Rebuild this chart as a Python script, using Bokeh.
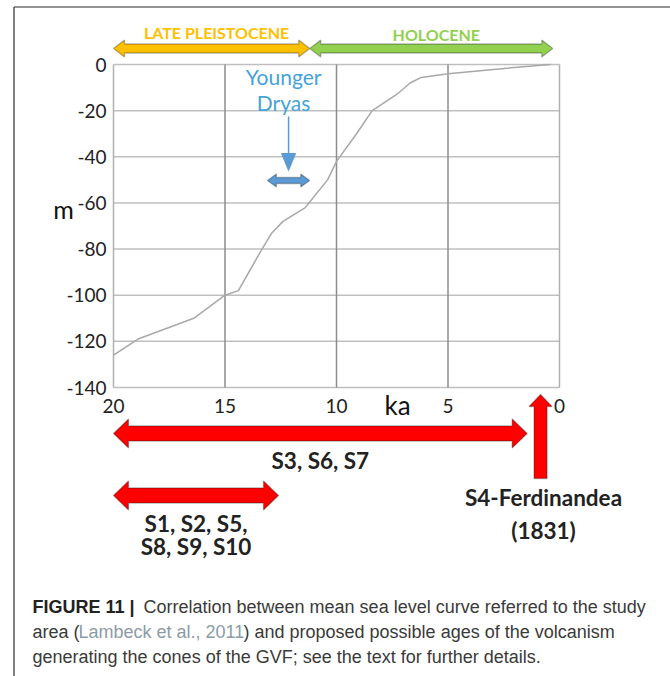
from bokeh.plotting import figure
from bokeh.models import Range1d, FixedTicker, Label, PolyAnnotation, LinearAxis
from bokeh.embed import file_html
from bokeh.resources import INLINE

# ---------------- data ----------------
age_ka = [20.0, 18.9, 16.4, 15.0, 14.4, 13.4, 12.9, 12.4, 11.4, 10.4, 10.0,
          9.1, 8.4, 7.3, 6.7, 6.2, 5.0, 2.6, 0.4]
sea_level_m = [-126, -119, -110, -100, -98, -81, -73, -68, -62, -50, -42,
               -30, -20, -13, -8, -5.6, -4, -1.8, 0]
x_ticks = [20, 15, 10, 5, 0]
y_ticks = [0, -20, -40, -60, -80, -100, -120, -140]

period_names = ["LATE PLEISTOCENE", "HOLOCENE"]
period_start = [20.0, 11.2]
period_end = [11.2, 0.3]
period_colors = ["#FFC000", "#92D050"]

yd_name = ["Younger", "Dryas"]
yd_start, yd_end = 13.1, 11.2

volc_labels = [["S3, S6, S7"], ["S1, S2, S5,", "S8, S9, S10"]]
volc_start = [20.0, 20.0]
volc_end = [1.45, 12.6]
ferd_ka = 0.85
ferd_label = ["S4-Ferdinandea", "(1831)"]

caption_bold = "FIGURE 11 |"
caption_l1 = "Correlation between mean sea level curve referred to the study"
caption_l2a = "area ("
caption_ref = "Lambeck et al., 2011"
caption_l2b = ") and proposed possible ages of the volcanism"
caption_l3 = "generating the cones of the GVF; see the text for further details."

# ---------------- layout ----------------
W, H = 670, 676
PX0, PX1, PY0, PY1 = 113, 559, 64, 387        # where the data box sits on the canvas
XMAX, XMIN = max(x_ticks), min(x_ticks)
YMIN, YMAX = min(y_ticks), max(y_ticks)
KX = (XMAX - XMIN) / (PX1 - PX0)   # ka per px
KY = (YMAX - YMIN) / (PY1 - PY0)   # m per px
XL = XMAX + PX0 * KX
YT = YMAX + PY0 * KY

def X(px):
    return XL - px * KX

def Y(py):
    return YT - py * KY

p = figure(width=W, height=H, output_backend="svg", toolbar_location=None,
           x_range=Range1d(X(0), X(W)), y_range=Range1d(Y(H), Y(0)),
           x_axis_location=None, y_axis_location=None, min_border=0)
p.min_border_left = p.min_border_right = p.min_border_top = p.min_border_bottom = 0
p.background_fill_color = "white"
p.border_fill_color = "white"
p.outline_line_color = None
p.grid.visible = False

FONT = "Lato"
xa = LinearAxis(fixed_location=YMIN, ticker=FixedTicker(ticks=x_ticks),
                major_label_overrides={t: str(t) for t in x_ticks})
ya = LinearAxis(fixed_location=XMAX, ticker=FixedTicker(ticks=y_ticks),
                major_label_overrides={t: str(t) for t in y_ticks})
for ax in (xa, ya):
    ax.axis_line_color = None
    ax.major_tick_line_color = None
    ax.minor_tick_line_color = None
    ax.major_label_text_font = FONT
    ax.major_label_text_font_size = "19px"
    ax.major_label_text_color = "#222222"
xa.major_label_standoff = 5
ya.major_label_standoff = 1
p.add_layout(xa, "below")
p.add_layout(ya, "left")

# grid + box
inner_x = x_ticks[1:-1]
p.segment(x0=[XMAX] * len(y_ticks), y0=y_ticks, x1=[XMIN] * len(y_ticks), y1=y_ticks,
          line_color="#bfbfbf", line_width=1.5)
p.segment(x0=inner_x, y0=[YMIN] * len(inner_x), x1=inner_x, y1=[YMAX] * len(inner_x),
          line_color="#8c8c8c", line_width=1.5)
p.segment(x0=[XMAX, XMIN], y0=[YMIN] * 2, x1=[XMAX, XMIN], y1=[YMAX] * 2,
          line_color="#b0b0b0", line_width=1.5)

p.line(age_ka, sea_level_m, line_color="#a8a8a8", line_width=1.5)

# axis names
p.add_layout(Label(x=X(63), y=Y(208), text="m", text_font=FONT, text_font_size="25px",
                   text_align="center", text_baseline="middle", text_color="#111111"))
p.add_layout(Label(x=X(397), y=Y(404), text="ka", text_font=FONT, text_font_size="26px",
                   text_align="center", text_baseline="middle", text_color="#111111"))


def harrow(xl, xr, ym, bh, hh, hl, color):
    d = hl * KX
    xs = [xl, xl - d, xl - d, xr + d, xr + d, xr, xr + d, xr + d, xl - d, xl - d]
    ys = [ym, ym + hh * KY, ym + bh * KY, ym + bh * KY, ym + hh * KY, ym,
          ym - hh * KY, ym - bh * KY, ym - bh * KY, ym - hh * KY]
    p.add_layout(PolyAnnotation(xs=xs, ys=ys, fill_color=color, fill_alpha=1,
                                line_color="#111111", line_width=1.3))


# period arrows
for name, s, e, c, ty in zip(period_names, period_start, period_end, period_colors, [32, 34]):
    harrow(s, e, Y(48), 4.5, 8.5, 11, c)
    p.add_layout(Label(x=(s + e) / 2 - 5 * KX, y=Y(ty), text=name, text_font=FONT,
                       text_font_style="bold", text_font_size="16px", text_color=c,
                       text_align="center", text_baseline="middle"))

# Younger Dryas
yd_c = (yd_start + yd_end) / 2
for i, t in enumerate(yd_name):
    p.add_layout(Label(x=yd_c + 5 * KX, y=Y(76 + 26 * i), text=t, text_font=FONT,
                       text_font_size="21px", text_color="#45a3da", text_align="center",
                       text_baseline="middle"))
yd_top, yd_tip = Y(116), Y(170)
p.segment(x0=[yd_c], y0=[yd_top], x1=[yd_c], y1=[yd_tip + 14 * KY], line_color="#5b9bd5",
          line_width=1.5)
p.patch(x=[yd_c - 7 * KX, yd_c + 7 * KX, yd_c], y=[yd_tip + 17 * KY] * 2 + [yd_tip],
        fill_color="#5b9bd5", line_color="#5b9bd5")
harrow(yd_start, yd_end, Y(180), 3, 6.5, 9, "#5b9bd5")

# volcanism arrows
BF = "22.5px"
for labels, s, e, ay, ty in zip(volc_labels, volc_start, volc_end, [433, 495], [460, 523]):
    harrow(s, e, Y(ay), 7.5, 14.5, 15, "#ff0000")
    cx = (s + e) / 2
    for j, t in enumerate(labels):
        p.add_layout(Label(x=cx, y=Y(ty + 23 * j), text=t, text_font=FONT,
                           text_font_style="bold", text_font_size=BF, text_color="#222222",
                           text_align="center", text_baseline="middle"))

# Ferdinandea up arrow
tip, base, bottom = Y(394), Y(406), Y(478)
hw, bw = 11.5 * KX, 6.5 * KX
p.add_layout(PolyAnnotation(
    xs=[ferd_ka, ferd_ka - hw, ferd_ka - bw, ferd_ka - bw, ferd_ka + bw, ferd_ka + bw, ferd_ka + hw],
    ys=[tip, base, base, bottom, bottom, base, base],
    fill_color="#ff0000", fill_alpha=1, line_color="#111111", line_width=1.3))
for j, t in enumerate(ferd_label):
    p.add_layout(Label(x=X(543), y=Y(497 + 33 * j), text=t, text_font=FONT,
                       text_font_style="bold", text_font_size=BF, text_color="#222222",
                       text_align="center", text_baseline="middle"))

# frame lines of the figure panel (left and top rules)
p.segment(x0=[X(13.5), X(13.5)], y0=[Y(H), Y(6.5)], x1=[X(13.5), X(W)], y1=[Y(6.5), Y(6.5)],
          line_color="#2a2a2a", line_width=1.2)

CF = "Liberation Sans"
CS = "18px"
def cap(px, py, t, color="#3a3a3a", style="normal"):
    p.add_layout(Label(x=X(px), y=Y(py), text=t, text_font=CF, text_font_size=CS,
                       text_font_style=style, text_color=color, text_align="left",
                       text_baseline="middle"))

cap(32, 606, caption_bold, "#222222", "bold")
cap(143, 606, caption_l1)
cap(32, 631, caption_l2a)
cap(78, 631, caption_ref, "#8d9ba6")
cap(243, 631, caption_l2b)
cap(32, 656, caption_l3)

open("out.html", "w").write(file_html(p, INLINE))
